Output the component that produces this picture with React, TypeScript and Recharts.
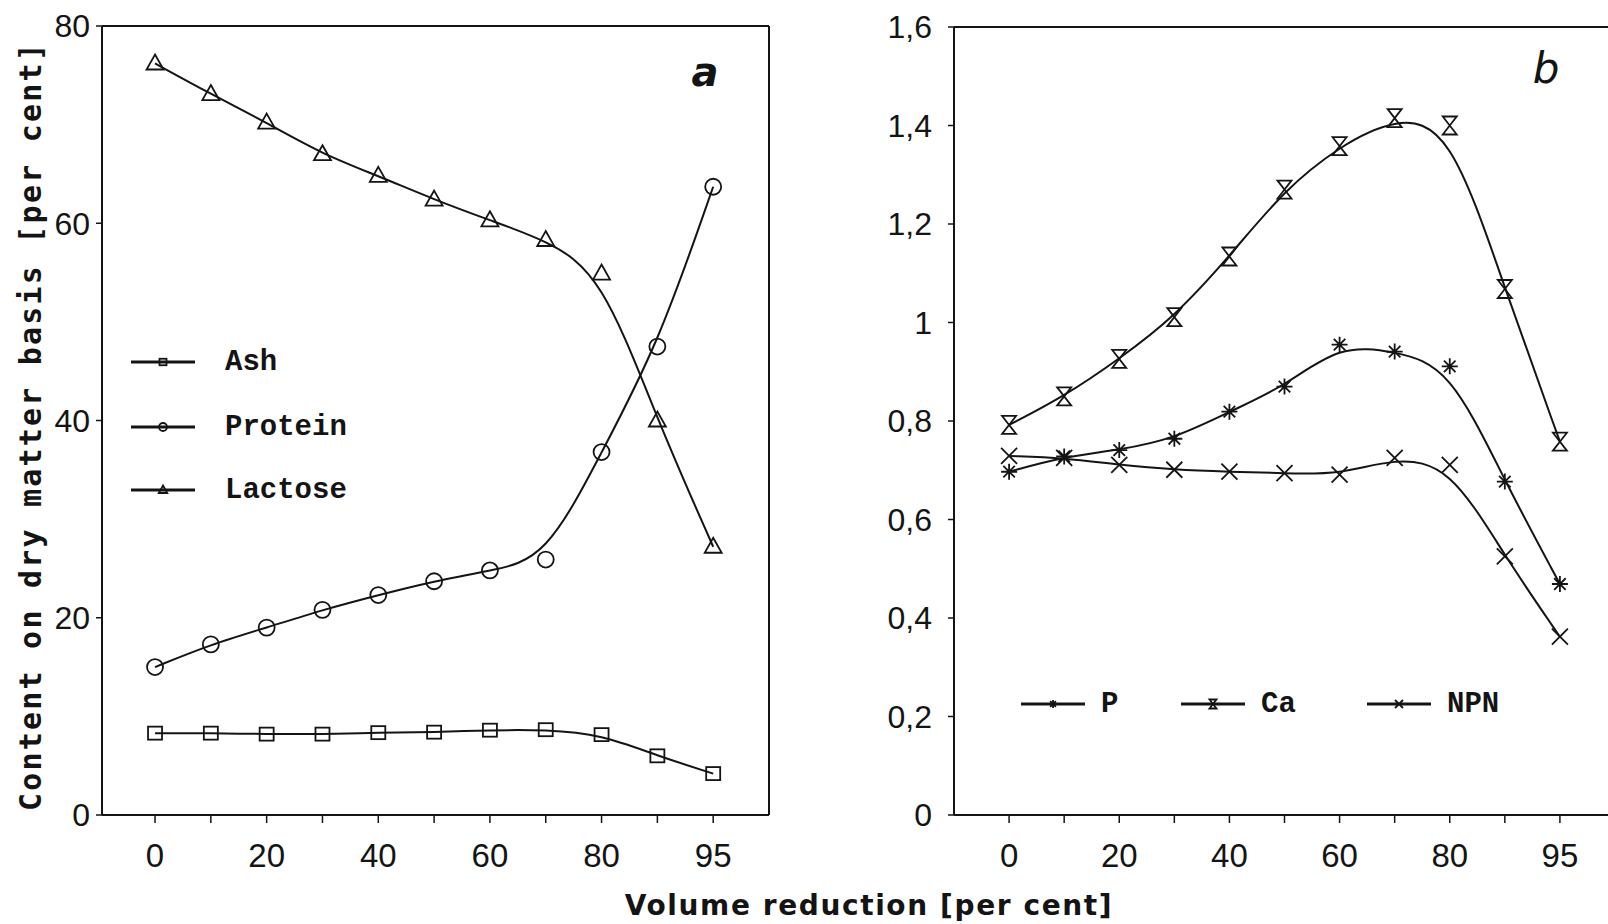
import React from "react";
import { LineChart, Line, XAxis, YAxis, ReferenceLine } from "recharts";

const INK = "#141414";

// volume reduction steps (per cent); 95 sits one step after 90
const xLabels = ["0", "10", "20", "30", "40", "50", "60", "70", "80", "90", "95"];

// panel a: content on dry matter basis (per cent)
const ash = [8.3, 8.3, 8.2, 8.2, 8.35, 8.4, 8.6, 8.65, 8.15, 6.0, 4.2];
const protein = [15.0, 17.3, 19.0, 20.8, 22.3, 23.7, 24.8, 25.9, 36.8, 47.5, 63.7];
const lactose = [76.2, 73.1, 70.2, 67.0, 64.8, 62.4, 60.3, 58.3, 54.9, 40.0, 27.2];

// panel b
const phosphorus = [0.697, 0.728, 0.741, 0.764, 0.819, 0.87, 0.955, 0.941, 0.911, 0.677, 0.469];
const calcium = [0.792, 0.85, 0.926, 1.011, 1.134, 1.27, 1.358, 1.415, 1.4, 1.068, 0.758];
const npn = [0.729, 0.725, 0.711, 0.701, 0.697, 0.694, 0.691, 0.725, 0.711, 0.525, 0.362];

const yTicksA = [0, 20, 40, 60, 80];
const yTicksB = [0, 0.2, 0.4, 0.6, 0.8, 1, 1.2, 1.4, 1.6];
const xTicks = xLabels.map((_, i) => i);

const dataA = xLabels.map((label, i) => ({ i, label, ash: ash[i], protein: protein[i], lactose: lactose[i] }));
const dataB = xLabels.map((label, i) => ({ i, label, p: phosphorus[i], ca: calcium[i], npn: npn[i] }));

const seriesA = [
  { key: "ash", name: "Ash", kind: "square" },
  { key: "protein", name: "Protein", kind: "circle" },
  { key: "lactose", name: "Lactose", kind: "triangle" },
];
const seriesB = [
  { key: "p", name: "P", kind: "star" },
  { key: "ca", name: "Ca", kind: "hourglass" },
  { key: "npn", name: "NPN", kind: "cross" },
];

const sans = "'Liberation Sans', Arial, sans-serif";
const xTickFont = { fill: INK, fontSize: 33, fontFamily: sans };
const yTickFont = { fill: INK, fontSize: 32, fontFamily: sans };
const legendFont = "'Liberation Mono', 'Courier New', monospace";

function Marker({ kind, cx, cy, s = 1 }: { kind: string; cx: number; cy: number; s?: number }) {
  const st = { fill: "none", stroke: INK, strokeWidth: 1.8 };
  if (kind === "square") return <rect x={cx - 7 * s} y={cy - 6.5 * s} width={14 * s} height={13 * s} {...st} />;
  if (kind === "circle") return <circle cx={cx} cy={cy} r={8 * s} {...st} />;
  if (kind === "triangle")
    return <path d={`M${cx},${cy - 9 * s} L${cx + 8.5 * s},${cy + 6 * s} L${cx - 8.5 * s},${cy + 6 * s} Z`} {...st} />;
  if (kind === "hourglass")
    return <path d={`M${cx - 7 * s},${cy - 9 * s} H${cx + 7 * s} L${cx - 7 * s},${cy + 9 * s} H${cx + 7 * s} Z`} {...st} />;
  const r = 8 * s;
  const d = r * 0.72;
  if (kind === "star")
    return (
      <path
        d={`M${cx - r},${cy} H${cx + r} M${cx},${cy - r} V${cy + r} M${cx - d},${cy - d} L${cx + d},${cy + d} M${cx - d},${cy + d} L${cx + d},${cy - d}`}
        {...st}
      />
    );
  return <path d={`M${cx - r},${cy - r} L${cx + r},${cy + r} M${cx - r},${cy + r} L${cx + r},${cy - r}`} {...st} />;
}

const xFmt = (v: number) => (v % 2 === 0 ? xLabels[v] : "");
const yFmtB = (v: number) => (v === 0 ? "0" : v === 1 ? "1" : v.toFixed(1).replace(".", ","));

function Panel({ data, series, yMax, yTicks, yFmt, xMin, width, yWidth, yGap, top, right, frameRight }: any) {
  return (
    <LineChart width={width} height={900} data={data} margin={{ top, right, left: 0, bottom: 25 }}>
      <XAxis
        type="number"
        dataKey="i"
        domain={[xMin, 11]}
        allowDataOverflow
        ticks={xTicks}
        interval={0}
        tickFormatter={xFmt}
        height={60}
        tickSize={8}
        tickMargin={21}
        tick={xTickFont}
        axisLine={{ stroke: INK, strokeWidth: 2 }}
        tickLine={{ stroke: INK, strokeWidth: 1.5 }}
      />
      <YAxis
        type="number"
        domain={[0, yMax]}
        allowDataOverflow
        ticks={yTicks}
        interval={0}
        tickFormatter={yFmt}
        width={yWidth}
        tickSize={6}
        tickMargin={yGap}
        tick={yTickFont}
        axisLine={{ stroke: INK, strokeWidth: 2 }}
        tickLine={{ stroke: INK, strokeWidth: 1.5 }}
      />
      <ReferenceLine y={yMax} stroke={INK} strokeWidth={2} ifOverflow="visible" />
      {frameRight && <ReferenceLine x={11} stroke={INK} strokeWidth={2} ifOverflow="visible" />}
      {series.map((s: any) => (
        <Line
          key={s.key}
          dataKey={s.key}
          name={s.name}
          type="basis"
          stroke={INK}
          strokeWidth={2}
          isAnimationActive={false}
          dot={(p: any) => <Marker key={`${s.key}-${p.index}`} kind={s.kind} cx={p.cx} cy={p.cy} />}
          activeDot={false}
        />
      ))}
    </LineChart>
  );
}

function LegendItem({ x, y, kind, name, lineW = 64, gap = 30 }: any) {
  return (
    <g>
      <line x1={x} x2={x + lineW} y1={y} y2={y} stroke={INK} strokeWidth={3} />
      <Marker kind={kind} cx={x + lineW / 2} cy={y} s={0.5} />
      <text x={x + lineW + gap} y={y} dominantBaseline="central" fontFamily={legendFont} fontWeight="bold" fontSize={29} fill={INK}>
        {name}
      </text>
    </g>
  );
}

export default function App() {
  const rowsA = [362, 427, 490];
  const colsB = [1021, 1181, 1367];
  return (
    <div style={{ position: "fixed", left: 0, top: 0, width: 1608, height: 924, overflow: "hidden", background: "#fff" }}>
      <div style={{ position: "absolute", left: 0, top: 0 }}>
        <Panel data={dataA} series={seriesA} yMax={80} yTicks={yTicksA} xMin={-0.95} width={800} yWidth={102} yGap={6} top={26} right={31} frameRight />
      </div>
      <div style={{ position: "absolute", left: 820, top: 0 }}>
        <Panel data={dataB} series={seriesB} yMax={1.6} yTicks={yTicksB} yFmt={yFmtB} xMin={-1} width={820} yWidth={134} yGap={16} top={27} right={25} />
      </div>
      <svg width={1608} height={924} style={{ position: "absolute", left: 0, top: 0, pointerEvents: "none" }}>
        <text
          x={30}
          y={426}
          transform="rotate(-90 30 426)"
          textAnchor="middle"
          dominantBaseline="central"
          fontFamily="'DejaVu Sans Mono', monospace"
          fontWeight="bold"
          fontSize={30}
          letterSpacing={2.2}
          fill={INK}
        >
          Content on dry matter basis [per cent]
        </text>
        <text x={869} y={905} textAnchor="middle" dominantBaseline="central" fontFamily="'DejaVu Sans', sans-serif" fontWeight="bold" fontSize={28} letterSpacing={1.6} fill={INK}>
          Volume reduction [per cent]
        </text>
        <text x={705} y={72} textAnchor="middle" dominantBaseline="central" fontFamily="'DejaVu Sans', sans-serif" fontStyle="italic" fontWeight="bold" fontSize={40} fill={INK}>
          a
        </text>
        <text x={1546} y={68} textAnchor="middle" dominantBaseline="central" fontFamily="'DejaVu Sans', sans-serif" fontStyle="italic" fontSize={42} fill={INK}>
          b
        </text>
        {seriesA.map((s, k) => (
          <LegendItem key={s.key} x={131} y={rowsA[k]} kind={s.kind} name={s.name} />
        ))}
        {seriesB.map((s, k) => (
          <LegendItem key={s.key} x={colsB[k]} y={704} kind={s.kind} name={s.name} gap={16} />
        ))}
      </svg>
    </div>
  );
}
